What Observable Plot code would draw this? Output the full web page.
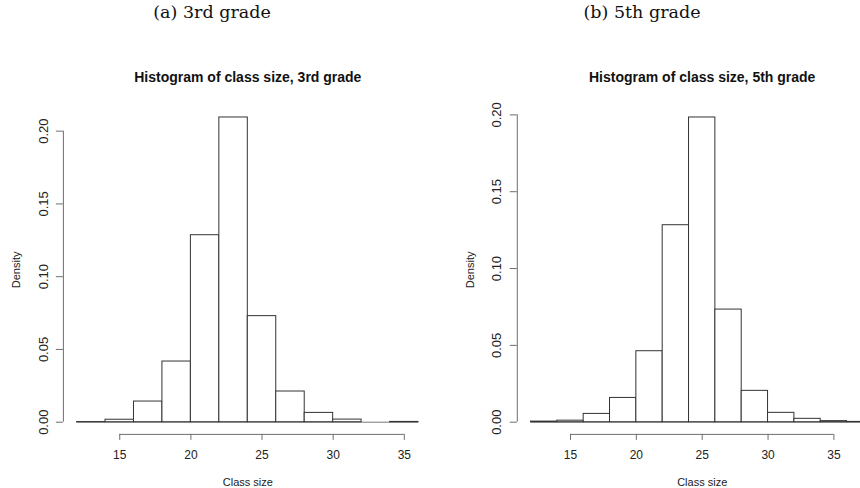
<!DOCTYPE html>
<html>
<head>
<meta charset="utf-8">
<script src="https://cdn.jsdelivr.net/npm/d3@7"></script>
<script src="https://cdn.jsdelivr.net/npm/@observablehq/plot@0.6"></script>
<style>
  html, body { margin: 0; padding: 0; background: #fff; }
  #wrap { position: relative; width: 860px; height: 488px; overflow: hidden; background: #fff; }
  .cap { position: absolute; top: 0; font-family: "DejaVu Serif", "Liberation Serif", serif; font-size: 17.5px; color: #111; transform: translateX(-50%); white-space: nowrap; line-height: 24px; }
  .panel { position: absolute; top: 0; }
</style>
</head>
<body>
<div id="wrap">
  <div class="cap" style="left:212px">(a) 3rd grade</div>
  <div class="cap" style="left:642px">(b) 5th grade</div>
  <div class="panel" id="p3" style="left:0px"></div>
  <div class="panel" id="p5" style="left:430px"></div>
</div>
<script>
// ---- data ----
const edges3 = [12, 14, 16, 18, 20, 22, 24, 26, 28, 30, 32, 34, 36];
const density3 = [0.0001, 0.0017, 0.0142, 0.0417, 0.1285, 0.2094, 0.0729, 0.0211, 0.0064, 0.0018, 0.0000, 0.0002];
const edges5 = [12, 14, 16, 18, 20, 22, 24, 26, 28, 30, 32, 34, 36, 38];
const density5 = [0.0004, 0.0010, 0.0054, 0.0158, 0.0462, 0.1282, 0.1983, 0.0733, 0.0204, 0.0061, 0.0022, 0.0007, 0.0002];
const xTicks = [15, 20, 25, 30, 35];
const yTicks = [0, 0.05, 0.10, 0.15, 0.20];
const titles = ["Histogram of class size, 3rd grade", "Histogram of class size, 5th grade"];
const xLabel = "Class size";
const yLabel = "Density";

const axisGray = "#6e6e6e";
const barStroke = "#333";
const font = "'Liberation Sans', Arial, Helvetica, sans-serif";

function histPanel(edges, dens, title, opts) {
  const bins = dens.map((d, i) => ({x1: edges[i], x2: edges[i + 1], d}));
  const lo = edges[0], hi = edges[edges.length - 1];
  const xpad = 0.04 * (hi - lo);
  const ymax = d3.max(dens);
  const ypad = 0.04 * ymax;
  const xDom = [lo - xpad, hi + xpad];
  const yDom = [-ypad, ymax + ypad];
  return Plot.plot({
    width: opts.width,
    height: 488,
    marginLeft: opts.marginLeft,
    marginRight: opts.marginRight,
    marginTop: 104.8,
    marginBottom: 54.1,
    style: {background: "transparent", fontFamily: font, overflow: "visible", maxWidth: "none"},
    x: {domain: xDom, axis: null},
    y: {domain: yDom, axis: null},
    marks: [
      // baseline made by the bottoms of all bins
      Plot.ruleY([0], {x1: lo, x2: hi, stroke: "#777"}),
      Plot.rectY(bins, {x1: "x1", x2: "x2", y: "d", fill: "white", stroke: barStroke, strokeWidth: 1}),
      // y axis (R style)
      Plot.ruleX([xDom[0]], {y1: yTicks[0], y2: yTicks[yTicks.length - 1], stroke: axisGray}),
      Plot.axisY({ticks: yTicks, tickSize: 7, tickFormat: () => "", stroke: axisGray, label: null}),
      Plot.text(yTicks, {x: xDom[0], y: d => d, text: d => d.toFixed(2), rotate: -90, dx: -20, textAnchor: "middle", lineAnchor: "middle", fontSize: 13, fill: "#222"}),
      Plot.text([yLabel], {frameAnchor: "left", dx: -47, rotate: -90, textAnchor: "middle", lineAnchor: "middle", fontSize: 11, fill: "#222"}),
      // x axis (R style)
      Plot.ruleY([yDom[0]], {x1: xTicks[0], x2: xTicks[xTicks.length - 1], stroke: axisGray}),
      Plot.axisX({ticks: xTicks, tickSize: 6, tickPadding: 10, fontSize: 12, stroke: axisGray, fill: "#222", label: null}),
      Plot.text([xLabel], {frameAnchor: "bottom", dy: 48, textAnchor: "middle", lineAnchor: "middle", fontSize: 11, fill: "#222"}),
      // title
      Plot.text([title], {frameAnchor: "top", dy: -28, textAnchor: "middle", lineAnchor: "middle", fontSize: 14, fontWeight: "bold", fill: "#111"})
    ]
  });
}

document.getElementById("p3").appendChild(histPanel(edges3, density3, titles[0], {width: 440, marginLeft: 62.9, marginRight: 8.3}));
document.getElementById("p5").appendChild(histPanel(edges5, density5, titles[1], {width: 470, marginLeft: 86.8, marginRight: 13.4}));
</script>
</body>
</html>
